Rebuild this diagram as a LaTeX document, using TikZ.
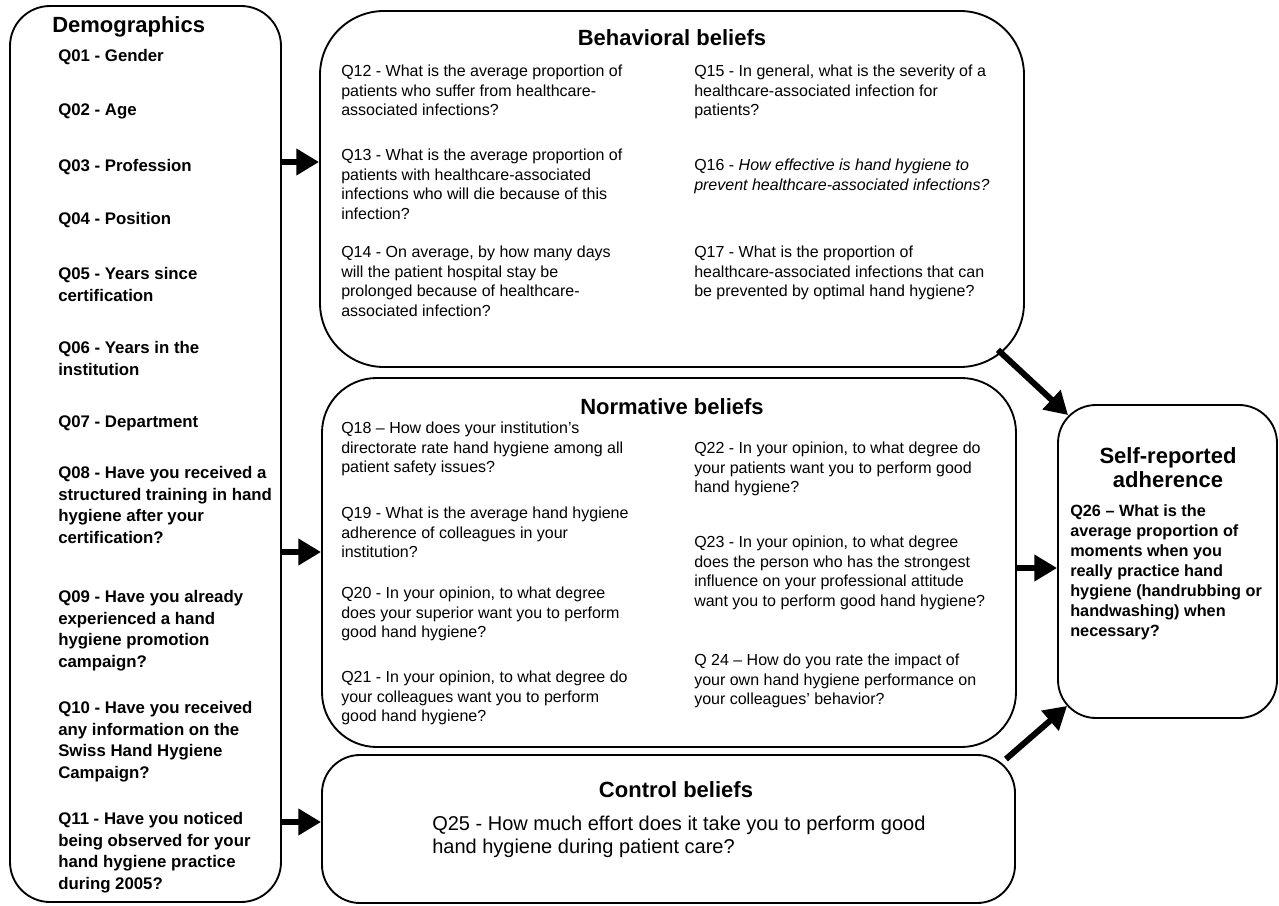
\documentclass[tikz,border=0pt]{standalone}
\usepackage{fontspec}
\setmainfont{Liberation Sans}
\usetikzlibrary{arrows.meta,fit,calc}
\begin{document}
\begin{tikzpicture}[x=0.75pt,y=-0.75pt,
  box/.style={draw, line width=1.4pt, inner sep=0pt},
  ttl/.style={font=\fontsize{16.5}{18}\selectfont\bfseries, inner sep=0pt},
  demq/.style={font=\fontsize{12.6}{16.3}\selectfont\bfseries, align=left, anchor=north west, inner sep=0pt},
  bq/.style={font=\fontsize{12}{14.6}\selectfont, align=left, anchor=north west, inner sep=0pt},
  cq/.style={font=\fontsize{15}{17.25}\selectfont, align=left, anchor=north west, inner sep=0pt},
  sq/.style={font=\fontsize{12.2}{15}\selectfont\bfseries, align=left, anchor=north west, inner sep=0pt},
  arr/.style={line width=4.5pt, -{Triangle[length=17pt,width=19pt]}},
]
\fill[white] (0,0) rectangle (1279,906);
\useasboundingbox (0,0) rectangle (1279,906);

% boxes
\node[box, rounded corners=30pt, fit={(10,6) (281,902)}] (demo) {};
\node[box, rounded corners=48pt, fit={(320,11) (1024,367)}] (behav) {};
\node[box, rounded corners=41pt, fit={(322,378) (1016,747)}] (norm) {};
\node[box, rounded corners=28.5pt, fit={(322,755) (1015,903)}] (ctrl) {};
\node[box, rounded corners=28.5pt, fit={(1058,405) (1277,718)}] (self) {};

% Demographics
\node[ttl, anchor=base west] (tdemo) at (52,33) {Demographics};
\node[demq] (q01) at (58,49) {Q01 - Gender};
\node[demq] (q02) at (58,104) {Q02 - Age};
\node[demq] (q03) at (58,159) {Q03 - Profession};
\node[demq] (q04) at (58,212) {Q04 - Position};
\node[demq] (q05) at (58,267) {Q05 - Years since\\certification};
\node[demq] (q06) at (58,341) {Q06 - Years in the\\institution};
\node[demq] (q07) at (58,416) {Q07 - Department};
\node[demq] (q08) at (58,466) {Q08 - Have you received a\\structured training in hand\\hygiene after your\\certification?};
\node[demq] (q09) at (58,590) {Q09 - Have you already\\experienced a hand\\hygiene promotion\\campaign?};
\node[demq] (q10) at (58,701) {Q10 - Have you received\\any information on the\\Swiss Hand Hygiene\\Campaign?};
\node[demq] (q11) at (58,812) {Q11 - Have you noticed\\being observed for your\\hand hygiene practice\\during 2005?};

% Behavioral beliefs
\node[ttl, anchor=base] (tbeh) at (672,46) {Behavioral beliefs};
\node[bq] (q12) at (341,65) {Q12 - What is the average proportion of\\patients who suffer from healthcare-\\associated infections?};
\node[bq] (q13) at (341,149) {Q13 - What is the average proportion of\\patients with healthcare-associated\\infections who will die because of this\\infection?};
\node[bq] (q14) at (341,246) {Q14 - On average, by how many days\\will the patient hospital stay be\\prolonged because of healthcare-\\associated infection?};
\node[bq] (q15) at (694,65) {Q15 - In general, what is the severity of a\\healthcare-associated infection for\\patients?};
\node[bq] (q16) at (694,159) {Q16 - {\itshape How effective is hand hygiene to}\\{\itshape prevent healthcare-associated infections?}};
\node[bq] (q17) at (694,246) {Q17 - What is the proportion of\\healthcare-associated infections that can\\be prevented by optimal hand hygiene?};

% Normative beliefs
\node[ttl, anchor=base] (tnorm) at (672,414) {Normative beliefs};
\node[bq] (q18) at (341,422) {Q18 – How does your institution’s\\directorate rate hand hygiene among all\\patient safety issues?};
\node[bq] (q19) at (341,507) {Q19 - What is the average hand hygiene\\adherence of colleagues in your\\institution?};
\node[bq] (q20) at (341,587) {Q20 - In your opinion, to what degree\\does your superior want you to perform\\good hand hygiene?};
\node[bq] (q21) at (341,671) {Q21 - In your opinion, to what degree do\\your colleagues want you to perform\\good hand hygiene?};
\node[bq] (q22) at (694,442) {Q22 - In your opinion, to what degree do\\your patients want you to perform good\\hand hygiene?};
\node[bq] (q23) at (694,536) {Q23 - In your opinion, to what degree\\does the person who has the strongest\\influence on your professional attitude\\want you to perform good hand hygiene?};
\node[bq] (q24) at (694,654) {Q 24 – How do you rate the impact of\\your own hand hygiene performance on\\your colleagues’ behavior?};

% Control beliefs
\node[ttl, anchor=base] (tctrl) at (676,797) {Control beliefs};
\node[cq] (q25) at (432,816) {Q25 - How much effort does it take you to perform good\\hand hygiene during patient care?};

% Self-reported adherence
\node[ttl, align=center, anchor=north] (tself) at (1168,447) {Self-reported\\adherence};
\node[sq] (q26) at (1070,504) {Q26 – What is the\\average proportion of\\moments when you\\really practice hand\\hygiene (handrubbing or\\handwashing) when\\necessary?};

% connectors
\coordinate (ya) at (0,162);
\coordinate (yb) at (0,552);
\coordinate (yc) at (0,822);
\coordinate (yd) at (0,568);
\draw[arr] (demo.east |- ya) -- (behav.west |- ya);
\draw[arr] (demo.east |- yb) -- (norm.west |- yb);
\draw[arr] (demo.east |- yc) -- (ctrl.west |- yc);
\draw[arr] (norm.east |- yd) -- (self.west |- yd);
\coordinate (bs) at ($(behav.south east)+(-27,-18)$);
\coordinate (sb) at ($(self.north west)+(11,11)$);
\draw[arr] (bs) -- (sb);
\coordinate (cs) at ($(ctrl.north east)+(-10,5)$);
\coordinate (sc) at ($(self.south west)+(10,-13)$);
\draw[arr] (cs) -- (sc);
\end{tikzpicture}
\end{document}
